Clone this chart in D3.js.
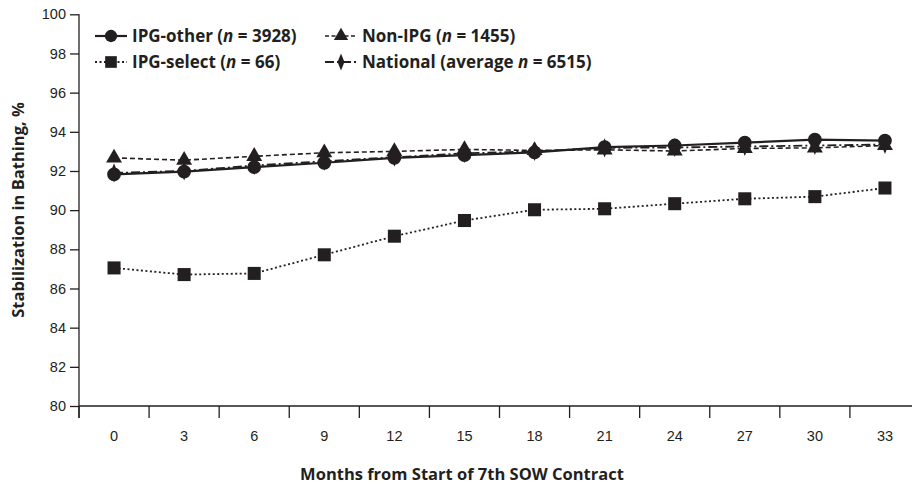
<!DOCTYPE html>
<html>
<head>
<meta charset="utf-8">
<script src="https://cdn.jsdelivr.net/npm/d3@7"></script>
<style>
  body { margin: 0; background: #fff; }
  svg { display: block; font-family: "Open Sans", sans-serif; }
  .tick text { font-size: 14.5px; fill: #231f20; }
  .label { font-size: 16.5px; font-weight: bold; fill: #231f20; }
  .legend text { font-size: 17px; font-weight: bold; fill: #231f20; }
</style>
</head>
<body>
<svg id="chart" width="912" height="484"></svg>
<script>
// Data
var months = [0, 3, 6, 9, 12, 15, 18, 21, 24, 27, 30, 33];
var ipgOther = [91.83, 91.97, 92.2, 92.42, 92.67, 92.81, 92.95, 93.22, 93.3, 93.45, 93.6, 93.55];
var nonIpg = [92.67, 92.55, 92.75, 92.93, 93.0, 93.1, 93.05, 93.08, 93.02, 93.15, 93.18, 93.3];
var national = [91.9, 92.0, 92.28, 92.5, 92.7, 92.9, 93.0, 93.18, 93.2, 93.25, 93.3, 93.35];
var ipgSelect = [87.05, 86.71, 86.77, 87.72, 88.67, 89.47, 90.02, 90.07, 90.33, 90.58, 90.69, 91.13];
var yTicks = [80, 82, 84, 86, 88, 90, 92, 94, 96, 98, 100];

var ink = "#231f20";
var svg = d3.select("#chart");

var x = d3.scaleBand().domain(months).range([79, 920]).padding(0);
var y = d3.scaleLinear().domain([80, 100]).range([406, 14.3]);

// Y axis
svg.append("g")
    .attr("transform", "translate(79,0)")
    .call(d3.axisLeft(y).tickValues(yTicks).tickSize(9).tickPadding(4))
    .call(function(g) {
        g.select(".domain").attr("stroke", ink).attr("stroke-width", 1.3).attr("d", "M0,14.3V418");
        g.selectAll(".tick line").attr("stroke", ink).attr("stroke-width", 1.3);
    });

// X axis: labels centred in bands, ticks on band edges
var xg = svg.append("g")
    .attr("transform", "translate(0,406)")
    .call(d3.axisBottom(x).tickSize(0).tickPadding(25));
xg.select(".domain").attr("stroke", ink).attr("stroke-width", 1.3).attr("d", "M79,0H912");
var edges = months.map(function(m) { return x(m); }).concat([x.range()[1]]);
xg.selectAll("line.edge")
    .data(edges)
    .enter().append("line")
    .attr("class", "edge")
    .attr("x1", function(d) { return d; })
    .attr("x2", function(d) { return d; })
    .attr("y1", 0)
    .attr("y2", 12)
    .attr("stroke", ink)
    .attr("stroke-width", 1.3);

// Axis titles
svg.append("text")
    .attr("class", "label")
    .attr("x", 462)
    .attr("y", 480)
    .attr("text-anchor", "middle")
    .text("Months from Start of 7th SOW Contract");

svg.append("text")
    .attr("class", "label")
    .attr("transform", "translate(24,210) rotate(-90)")
    .attr("text-anchor", "middle")
    .text("Stabilization in Bathing, %");

// Series
var series = [
    {name: "ipgSelect", values: ipgSelect, dash: "2,2.5", width: 1.8, symbol: d3.symbolSquare, size: 170},
    {name: "nonIpg", values: nonIpg, dash: "5,3", width: 1.6, symbol: d3.symbolTriangle, size: 110},
    {name: "national", values: national, dash: "9,3,2,3", width: 1.8, symbol: d3.symbolDiamond, size: 80},
    {name: "ipgOther", values: ipgOther, dash: null, width: 2.2, symbol: d3.symbolCircle, size: 150}
];

var line = d3.line()
    .x(function(d, i) { return x(months[i]) + x.bandwidth() / 2; })
    .y(function(d) { return y(d); });

series.forEach(function(s) {
    svg.append("path")
        .attr("d", line(s.values))
        .attr("fill", "none")
        .attr("stroke", ink)
        .attr("stroke-width", s.width)
        .attr("stroke-dasharray", s.dash);
    svg.selectAll(null)
        .data(s.values)
        .enter().append("path")
        .attr("d", d3.symbol().type(s.symbol).size(s.size))
        .attr("transform", function(d, i) {
            var sx = s.symbol === d3.symbolDiamond ? "scale(0.8,1.15)" : "";
            return "translate(" + (x(months[i]) + x.bandwidth() / 2) + "," + y(d) + ")" + sx;
        })
        .attr("fill", ink);
});

// Legend
var legendItems = [
    {s: series[3], x: 95, y: 36, label: ["IPG-other (", "n", " = 3928)"]},
    {s: series[0], x: 95, y: 62, label: ["IPG-select (", "n", " = 66)"]},
    {s: series[1], x: 325, y: 36, label: ["Non-IPG (", "n", " = 1455)"]},
    {s: series[2], x: 325, y: 62, label: ["National (average ", "n", " = 6515)"]}
];

var legend = svg.append("g").attr("class", "legend");
legendItems.forEach(function(it) {
    legend.append("line")
        .attr("x1", it.x).attr("x2", it.x + 32)
        .attr("y1", it.y).attr("y2", it.y)
        .attr("stroke", ink)
        .attr("stroke-width", it.s.width)
        .attr("stroke-dasharray", it.s.name === "nonIpg" ? "4,2.5" : it.s.dash);
    var sx = it.s.symbol === d3.symbolDiamond ? "scale(0.8,1.15)" : "";
    legend.append("path")
        .attr("d", d3.symbol().type(it.s.symbol).size(it.s.size * 0.8))
        .attr("transform", "translate(" + (it.x + 16) + "," + it.y + ")" + sx)
        .attr("fill", ink);
    var t = legend.append("text")
        .attr("x", it.x + 37)
        .attr("y", it.y + 6);
    t.append("tspan").text(it.label[0]);
    t.append("tspan").attr("font-style", "italic").text(it.label[1]);
    t.append("tspan").text(it.label[2]);
});
</script>
</body>
</html>
